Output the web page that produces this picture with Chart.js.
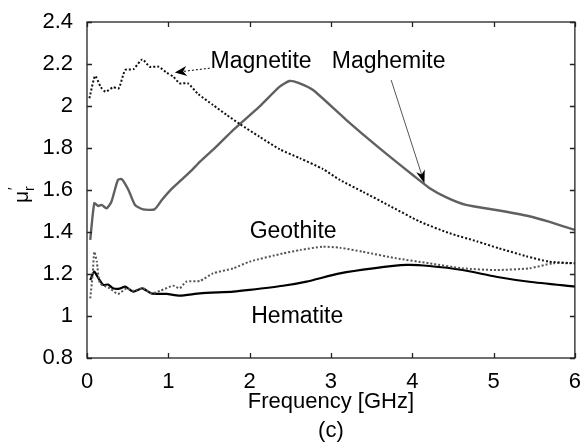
<!DOCTYPE html>
<html>
<head>
<meta charset="utf-8">
<title>Relative permeability</title>
<script src="https://cdn.jsdelivr.net/npm/chart.js@4.4.1/dist/chart.umd.min.js"></script>
<style>
    html, body { margin: 0; padding: 0; background: #ffffff; }
    canvas { display: block; }
</style>
</head>
<body>
<canvas id="chart-mu" width="584" height="442"></canvas>
<script>
// ------------------------------------------------------------------------------------------- data
const magnetiteFreq = [0.03, 0.1, 0.17, 0.23, 0.32, 0.39, 0.47, 0.57, 0.68, 0.77, 0.88, 0.98, 1.06, 1.14, 1.24, 1.37, 1.55, 1.72, 1.88, 2.12, 2.37, 2.62, 2.9, 3.11, 3.4, 3.72, 4.09, 4.46, 4.8, 5.07, 5.4, 5.68, 6.0];
const magnetiteMu   = [2.037, 2.143, 2.09, 2.068, 2.089, 2.084, 2.171, 2.175, 2.222, 2.187, 2.187, 2.159, 2.14, 2.108, 2.108, 2.056, 2.005, 1.957, 1.914, 1.854, 1.794, 1.751, 1.70, 1.648, 1.59, 1.525, 1.45, 1.394, 1.355, 1.322, 1.285, 1.259, 1.251];

const maghemiteFreq = [0.04, 0.09, 0.14, 0.18, 0.24, 0.30, 0.38, 0.43, 0.51, 0.59, 0.69, 0.83, 0.92, 1.04, 1.16, 1.29, 1.39, 1.6, 1.80, 2.12, 2.37, 2.49, 2.6, 2.78, 3.19, 3.60, 4.01, 4.21, 4.42, 4.66, 5.03, 5.44, 5.68, 6.0];
const maghemiteMu   = [1.362, 1.537, 1.524, 1.529, 1.513, 1.544, 1.648, 1.651, 1.6, 1.529, 1.508, 1.508, 1.552, 1.605, 1.648, 1.695, 1.735, 1.81, 1.886, 1.997, 2.092, 2.119, 2.11, 2.076, 1.933, 1.798, 1.67, 1.61, 1.565, 1.529, 1.505, 1.475, 1.449, 1.41];

const geothiteFreq  = [0.04, 0.07, 0.09, 0.12, 0.16, 0.28, 0.38, 0.49, 0.57, 0.69, 0.79, 0.9, 1.06, 1.14, 1.22, 1.39, 1.55, 1.8, 2.0, 2.41, 2.62, 2.9, 3.11, 3.39, 3.80, 4.21, 4.62, 5.03, 5.44, 5.73, 6.0];
const geothiteMu    = [1.084, 1.2, 1.306, 1.26, 1.156, 1.132, 1.105, 1.132, 1.12, 1.132, 1.108, 1.12, 1.144, 1.132, 1.163, 1.167, 1.203, 1.227, 1.259, 1.298, 1.314, 1.33, 1.325, 1.306, 1.275, 1.251, 1.227, 1.219, 1.227, 1.251, 1.251];

const hematiteFreq  = [0.04, 0.09, 0.14, 0.2, 0.26, 0.32, 0.40, 0.47, 0.57, 0.68, 0.79, 0.98, 1.14, 1.39, 1.80, 2.0, 2.41, 2.70, 3.11, 3.52, 3.93, 4.21, 4.62, 5.03, 5.44, 6.0];
const hematiteMu    = [1.171, 1.211, 1.18, 1.148, 1.15, 1.132, 1.13, 1.14, 1.116, 1.132, 1.108, 1.105, 1.097, 1.108, 1.116, 1.124, 1.144, 1.164, 1.203, 1.227, 1.243, 1.238, 1.219, 1.187, 1.163, 1.14];

const xTicks = [0, 1, 2, 3, 4, 5, 6];
const yTicks = [0.8, 1, 1.2, 1.4, 1.6, 1.8, 2, 2.2, 2.4];

// text labels and arrows, placed in data units
const labelTexts = ['Magnetite', 'Maghemite', 'Geothite', 'Hematite'];
const labelFreq  = [1.52, 3.01, 2.0, 2.02];
const labelMu    = [2.21, 2.21, 1.40, 0.997];
// -------------------------------------------------------------------------------------------
function toPoints(xs, ys)
{
    return xs.map((x, i) => ({ x: x, y: ys[i] }));
}
// -------------------------------------------------------------------------------------------
function drawArrowHead(ctx, fromX, fromY, tipX, tipY, len, half)
{
    const ang = Math.atan2(tipY - fromY, tipX - fromX);
    ctx.save();
    ctx.translate(tipX, tipY);
    ctx.rotate(ang);
    ctx.beginPath();
    ctx.moveTo(0, 0);
    ctx.lineTo(-len, -half);
    ctx.lineTo(-len * 0.7, 0);
    ctx.lineTo(-len, half);
    ctx.closePath();
    ctx.fill();
    ctx.restore();
}
// -------------------------------------------------------------------------------------------
const framePlugin = {
    id: 'matlabFrame',
    afterDatasetsDraw(chart) {
        const ctx = chart.ctx;
        const area = chart.chartArea;
        const xs = chart.scales.x;
        const ys = chart.scales.y;

        ctx.save();
        ctx.strokeStyle = '#222222';
        ctx.lineWidth = 1.3;
        ctx.strokeRect(area.left, area.top, area.right - area.left, area.bottom - area.top);

        // inward ticks on all four sides
        ctx.beginPath();
        xTicks.forEach((v) => {
            const px = Math.round(xs.getPixelForValue(v)) + 0.5;
            ctx.moveTo(px, area.bottom);
            ctx.lineTo(px, area.bottom - 5);
            ctx.moveTo(px, area.top);
            ctx.lineTo(px, area.top + 5);
        });
        yTicks.forEach((v) => {
            const py = Math.round(ys.getPixelForValue(v)) + 0.5;
            ctx.moveTo(area.left, py);
            ctx.lineTo(area.left + 5, py);
            ctx.moveTo(area.right, py);
            ctx.lineTo(area.right - 5, py);
        });
        ctx.stroke();

        // curve names
        ctx.fillStyle = '#000000';
        ctx.font = '23px "Liberation Sans", Arial, sans-serif';
        ctx.textAlign = 'left';
        ctx.textBaseline = 'middle';
        labelTexts.forEach((t, i) => {
            ctx.fillText(t, xs.getPixelForValue(labelFreq[i]), ys.getPixelForValue(labelMu[i]));
        });

        // Magnetite arrow (dotted)
        let x0 = xs.getPixelForValue(1.51), y0 = ys.getPixelForValue(2.18);
        let x1 = xs.getPixelForValue(1.08), y1 = ys.getPixelForValue(2.16);
        ctx.strokeStyle = '#000000';
        ctx.lineWidth = 1;
        ctx.setLineDash([2, 2]);
        ctx.beginPath();
        ctx.moveTo(x0, y0);
        ctx.lineTo(x1 + (x0 - x1) * 0.2, y1 + (y0 - y1) * 0.2);
        ctx.stroke();
        ctx.setLineDash([]);
        drawArrowHead(ctx, x0, y0, x1, y1, 12, 5);

        // Maghemite arrow (thin solid)
        x0 = xs.getPixelForValue(3.74); y0 = ys.getPixelForValue(2.124);
        x1 = xs.getPixelForValue(4.15); y1 = ys.getPixelForValue(1.632);
        ctx.strokeStyle = '#555555';
        ctx.lineWidth = 1;
        ctx.beginPath();
        ctx.moveTo(x0, y0);
        ctx.lineTo(x1 - (x1 - x0) * 0.08, y1 - (y1 - y0) * 0.08);
        ctx.stroke();
        ctx.fillStyle = '#000000';
        drawArrowHead(ctx, x0, y0, x1, y1, 13, 4.5);

        // axis titles
        const cx = (area.left + area.right) / 2;
        ctx.textAlign = 'center';
        ctx.font = '22px "Liberation Sans", Arial, sans-serif';
        ctx.fillText('Frequency [GHz]', cx, 402);
        ctx.fillText('(c)', cx, 431);

        ctx.save();
        ctx.translate(28, 203);
        ctx.rotate(-Math.PI / 2);
        ctx.textAlign = 'left';
        ctx.textBaseline = 'alphabetic';
        ctx.font = '21px "Liberation Sans", Arial, sans-serif';
        ctx.fillText('\u03bc', 0, 0);
        const w = ctx.measureText('\u03bc').width;
        ctx.font = '14px "Liberation Sans", Arial, sans-serif';
        ctx.fillText('r', w, 6);
        ctx.fillText('\u2032', w + 1, -10);
        ctx.restore();

        ctx.restore();
    }
};
// -------------------------------------------------------------------------------------------
function drawMuChart()
{
    Chart.defaults.font.family = '"Liberation Sans", Arial, sans-serif';
    Chart.defaults.font.size = 22;
    Chart.defaults.color = '#000000';

    const data = {
        datasets: [
            {
                label: 'Magnetite',
                data: toPoints(magnetiteFreq, magnetiteMu),
                borderColor: '#111111',
                borderWidth: 2,
                borderDash: [2, 2]
            },
            {
                label: 'Maghemite',
                data: toPoints(maghemiteFreq, maghemiteMu),
                borderColor: '#606060',
                borderWidth: 2.4
            },
            {
                label: 'Geothite',
                data: toPoints(geothiteFreq, geothiteMu),
                borderColor: '#555555',
                borderWidth: 2,
                borderDash: [2, 2]
            },
            {
                label: 'Hematite',
                data: toPoints(hematiteFreq, hematiteMu),
                borderColor: '#000000',
                borderWidth: 2.2
            }
        ]
    };

    const options = {
        responsive: false,
        animation: false,
        layout: { padding: { top: 22, right: 8, left: 0, bottom: 0 } },
        elements: {
            point: { radius: 0 },
            line: { tension: 0.2, fill: false, borderCapStyle: 'butt' }
        },
        plugins: {
            legend: { display: false },
            tooltip: { enabled: false }
        },
        scales: {
            x: {
                type: 'linear',
                min: 0,
                max: 6,
                grid: { display: false },
                border: { display: false },
                afterBuildTicks: (scale) => { scale.ticks = xTicks.map(v => ({ value: v })); },
                afterFit: (scale) => { scale.height = 84; },
                ticks: { padding: 3, maxRotation: 0, color: '#000000' }
            },
            y: {
                type: 'linear',
                min: 0.8,
                max: 2.4,
                grid: { display: false },
                border: { display: false },
                afterBuildTicks: (scale) => { scale.ticks = yTicks.map(v => ({ value: v })); },
                afterFit: (scale) => { scale.width = 87; },
                ticks: {
                    padding: 6,
                    color: '#000000',
                    callback: (value) => Number(value.toFixed(1)).toString()
                }
            }
        }
    };

    new Chart('chart-mu', {
        type: 'line',
        data: data,
        options: options,
        plugins: [framePlugin]
    });
}
// -------------------------------------------------------------------------------------------
drawMuChart();
</script>
</body>
</html>
